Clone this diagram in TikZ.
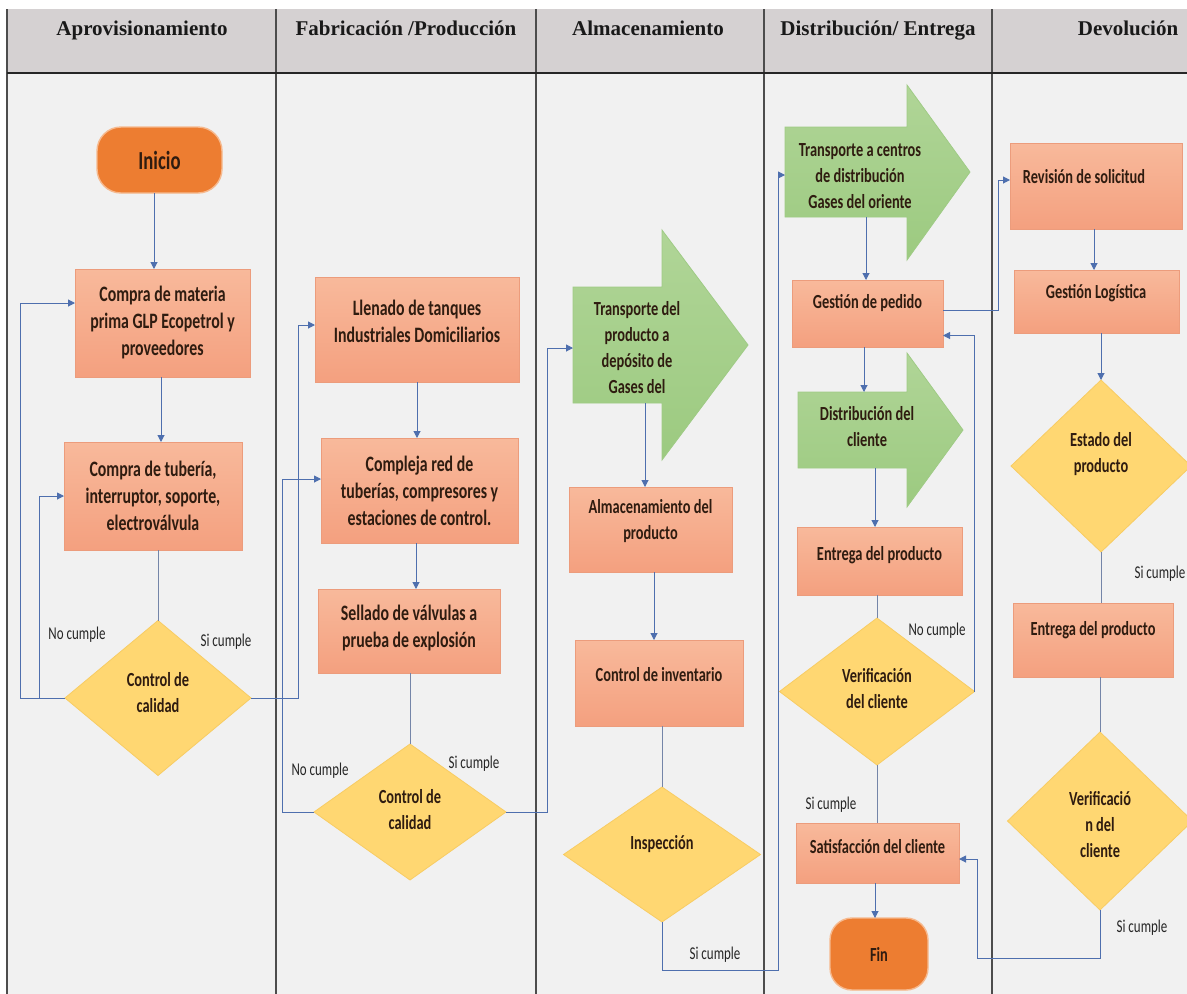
\documentclass[tikz,border=0pt]{standalone}
\usepackage{fontspec}
\setmainfont{Carlito}
\newfontfamily\headfont{Liberation Serif}
\newfontfamily\boxfont[FakeStretch=0.72]{Carlito}
\usetikzlibrary{shapes.geometric,arrows.meta,calc}

\definecolor{laneFill}{HTML}{F1F1F1}
\definecolor{headFill}{HTML}{D5D1D2}
\definecolor{divLine}{HTML}{4D4D4D}
\definecolor{oTop}{HTML}{F8B99B}
\definecolor{oBot}{HTML}{F4A07F}
\definecolor{oLine}{HTML}{EC9C7C}
\definecolor{gTop}{HTML}{B0D597}
\definecolor{gBot}{HTML}{9CCA80}
\definecolor{gLine}{HTML}{9FCB85}
\definecolor{yFill}{HTML}{FFD772}
\definecolor{yLine}{HTML}{F8CC63}
\definecolor{tFill}{HTML}{ED7D31}
\definecolor{tLine}{HTML}{F6B98E}
\definecolor{inkBrown}{HTML}{2F1C10}
\definecolor{arrBlue}{HTML}{4E6FAE}
\definecolor{lnBlue}{HTML}{7485A8}

\begin{document}
\begin{tikzpicture}[x=1pt,y=-1pt,
  stepbox/.style={rectangle, draw=oLine, line width=0.8pt, top color=oTop, bottom color=oBot, inner sep=0pt, outer sep=0pt},
  term/.style={rectangle, rounded corners=24pt, draw=tLine, line width=1.4pt, fill=tFill, inner sep=0pt, outer sep=0pt},
  decide/.style={diamond, draw=yLine, line width=0.8pt, fill=yFill, inner sep=0pt, outer sep=0pt},
  flowarrow/.style={draw=gLine, line width=0.8pt, top color=gTop, bottom color=gBot},
  bigtxt/.style={font=\boxfont\bfseries\fontsize{22}{27}\selectfont, text=inkBrown, align=center, inner sep=0pt},
  smalltxt/.style={font=\boxfont\bfseries\fontsize{20}{26}\selectfont, text=inkBrown, align=center, inner sep=0pt},
  condtxt/.style={font=\boxfont\fontsize{18}{20}\selectfont, text=black!85, inner sep=0pt},
  headtxt/.style={font=\headfont\bfseries\fontsize{21}{24}\selectfont, text=black!90, anchor=base, inner sep=0pt},
  arr/.style={draw=arrBlue, line width=1pt, -{Triangle[length=7pt,width=7pt]}},
  ln/.style={draw=lnBlue, line width=1pt},
  divider/.style={draw=divLine, line width=1.2pt}
]

% page and swimlane frame
\useasboundingbox (0,0) rectangle (1187,994);
\fill[white] (0,0) rectangle (1187,994);
\fill[laneFill] (7,73) rectangle (1187,994);
\fill[headFill] (7,9) rectangle (1187,73);
\foreach \lx in {7,276,536,764,992} \draw[divider] (\lx,9) -- (\lx,994);
\draw[line width=1.6pt, black!85] (7,73) -- (1187,73);

\node[headtxt] (h1) at (142,35.5) {Aprovisionamiento};
\node[headtxt] (h2) at (406,35.5) {Fabricación /Producción};
\node[headtxt] (h3) at (648,35.5) {Almacenamiento};
\node[headtxt] (h4) at (878,35.5) {Distribución/ Entrega};
\node[headtxt] (h5) at (1128,35.5) {Devolución};

% --- Aprovisionamiento
\node[term, minimum width=125pt, minimum height=66pt, font=\boxfont\bfseries\fontsize{26}{30}\selectfont, text=inkBrown] (inicio) at (159.5,160) {Inicio};
\node[stepbox, bigtxt, minimum width=175pt, minimum height=108pt] (cmp1) at (162.5,323) {Compra de materia\\prima GLP Ecopetrol y\\proveedores};
\node[stepbox, bigtxt, minimum width=178pt, minimum height=108pt] (cmp2) at (153,496) {Compra de tubería,\\interruptor, soporte,\\electroválvula};
\node[decide, minimum width=186pt, minimum height=155pt] (d1) at (158,698) {};
\node[smalltxt] (d1t) at (158,693) {Control de\\calidad};
\node[condtxt] (d1no) at (77,635) {No cumple};
\node[condtxt] (d1si) at (226,642) {Si cumple};

% --- Fabricación / Producción
\node[stepbox, minimum width=204pt, minimum height=105pt] (llen) at (417,329.5) {};
\node[bigtxt] (llent) at (417,321.5) {Llenado de tanques\\Industriales Domiciliarios};
\node[stepbox, bigtxt, minimum width=197pt, minimum height=105pt] (comp) at (419.5,490.5) {Compleja red de\\tuberías, compresores y\\estaciones de control.};
\node[stepbox, minimum width=182pt, minimum height=84pt] (sell) at (409,631) {};
\node[bigtxt] (sellt) at (409,628.5) {Sellado de válvulas a\\prueba de explosión};
\node[decide, minimum width=192pt, minimum height=136pt] (d2) at (410,812) {};
\node[smalltxt] (d2t) at (410,810) {Control de\\calidad};
\node[condtxt] (d2no) at (320,771) {No cumple};
\node[condtxt] (d2si) at (474,764) {Si cumple};

% --- Almacenamiento
\path[flowarrow] (573,287) -- (662,287) -- (662,230) -- (748,345) -- (662,460) -- (662,403) -- (573,403) -- cycle;
\coordinate (g1w) at (573,348);
\coordinate (g1s) at (645,403);
\node[smalltxt] (g1t) at (637,347.5) {Transporte del\\producto a\\depósito de\\Gases del};
\node[stepbox, minimum width=163pt, minimum height=85pt] (alm) at (650.5,529.5) {};
\node[smalltxt] (almt) at (650.5,521.5) {Almacenamiento del\\producto};
\node[stepbox, minimum width=168pt, minimum height=86pt] (inv) at (659,683) {};
\node[smalltxt] (invt) at (659,675) {Control de inventario};
\node[decide, minimum width=197pt, minimum height=135pt] (d3) at (662,854.5) {};
\node[smalltxt] (d3t) at (662,844) {Inspección};
\node[condtxt] (d3si) at (715,955) {Si cumple};

% --- Distribución / Entrega
\path[flowarrow] (785,127) -- (907,127) -- (907,85) -- (970,172) -- (907,260) -- (907,217) -- (785,217) -- cycle;
\coordinate (g2w) at (785,175);
\coordinate (g2s) at (866,217);
\node[smalltxt] (g2t) at (860,176) {Transporte a centros\\de distribución\\Gases del oriente};
\node[stepbox, minimum width=151pt, minimum height=67pt] (ped) at (867.5,313.5) {};
\node[smalltxt] (pedt) at (867.5,303) {Gestión de pedido};
\path[flowarrow] (798,392) -- (907,392) -- (907,353) -- (963,430) -- (907,507) -- (907,468) -- (798,468) -- cycle;
\coordinate (g3n) at (864,392);
\coordinate (g3s) at (875,468);
\node[smalltxt] (g3t) at (867,426.5) {Distribución del\\cliente};
\node[stepbox, minimum width=165pt, minimum height=68pt] (ent) at (879.5,561) {};
\node[smalltxt] (entt) at (879.5,555) {Entrega del producto};
\node[decide, minimum width=195pt, minimum height=147pt] (d4) at (877,691.5) {};
\node[smalltxt] (d4t) at (877,689) {Verificación\\del cliente};
\node[condtxt] (d4no) at (937,631) {No cumple};
\node[condtxt] (d4si) at (831,805) {Si cumple};
\node[stepbox, minimum width=163pt, minimum height=60pt] (sat) at (877.5,853) {};
\node[smalltxt] (satt) at (877.5,847) {Satisfacción del cliente};
\node[term, rounded corners=22pt, minimum width=98pt, minimum height=72pt, smalltxt] (fin) at (879,954) {Fin};

% --- Devolución
\node[stepbox, minimum width=172pt, minimum height=86pt] (rev) at (1096,186) {};
\node[smalltxt] (revt) at (1084,177) {Revisión de solicitud};
\node[stepbox, minimum width=165pt, minimum height=63pt] (glog) at (1096.5,301.5) {};
\node[smalltxt] (glogt) at (1096,293) {Gestión Logística};
\node[decide, minimum width=180pt, minimum height=172pt] (d5) at (1101,466) {};
\node[smalltxt] (d5t) at (1101,454.5) {Estado del\\producto};
\node[condtxt] (d5si) at (1160,574) {Si cumple};
\node[stepbox, minimum width=160pt, minimum height=74pt] (ent2) at (1093,640) {};
\node[smalltxt] (ent2t) at (1093,630) {Entrega del producto};
\node[decide, minimum width=185pt, minimum height=178pt] (d6) at (1100,821) {};
\node[smalltxt] (d6t) at (1100,825) {Verificació\\n del\\cliente};
\node[condtxt] (d6si) at (1142,928) {Si cumple};

% --- connectors
\draw[arr] ([xshift=-5.5pt]inicio.south) -- ([xshift=-5.5pt]inicio.south |- cmp1.north);
\draw[arr] ([xshift=-1.5pt]cmp1.south) -- ([xshift=-1.5pt]cmp1.south |- cmp2.north);
\draw[ln] (d1.north |- cmp2.south) -- (d1.north);
\draw[arr] (d1.west) -- ++(-45,0) |- ([yshift=20pt]cmp1.west);
\draw[arr] ([xshift=-26pt]d1.west) |- (cmp2.west);
\draw[arr] (d1.east) -- ++(47,0) |- ([yshift=4.5pt]llen.west);

\draw[arr] (llen.south) -- (llen.south |- comp.north);
\draw[arr] ([xshift=-3.5pt]comp.south) -- ([xshift=-3.5pt]comp.south |- sell.north);
\draw[ln] (d2.north |- sell.south) -- (d2.north);
\draw[arr] (d2.west) -- ++(-32,0) |- ([yshift=11.5pt]comp.west);
\draw[arr] (d2.east) -- ++(41,0) |- (g1w);

\draw[arr] (g1s) -- (g1s |- alm.north);
\draw[arr] ([xshift=3.5pt]alm.south) -- ([xshift=3.5pt]alm.south |- inv.north);
\draw[ln] (d3.north |- inv.south) -- (d3.north);
\draw[arr] (d3.south) -- ++(0,48) -| ([xshift=-7pt]g2w) -- (g2w);

\draw[arr] (g2s) -- (g2s |- ped.north);
\draw[arr] (g3n |- ped.south) -- (g3n);
\draw[arr] (g3s) -- (g3s |- ent.north);
\draw[ln] (d4.north |- ent.south) -- (d4.north);
\draw[arr] (d4.east) |- ([yshift=-22pt]ped.east);
\draw[ln] (d4.south) -- (d4.south |- sat.north);
\draw[arr] ([xshift=-4pt]fin.north |- sat.south) -- ([xshift=-4pt]fin.north);

\draw[arr] ([yshift=3.5pt]ped.east) -| ($(rev.west)+(-12,-6)$) -- ([yshift=6pt]rev.west);
\draw[arr] ([xshift=-2pt]rev.south) -- ([xshift=-2pt]rev.south |- glog.north);
\draw[arr] (d5.north |- glog.south) -- (d5.north);
\draw[ln] (d5.south) -- (d5.south |- ent2.north);
\draw[ln] (d6.north |- ent2.south) -- (d6.north);
\draw[arr] (d6.south) -- ++(0,48) -| ($(sat.east)+(18,6)$) -- ([yshift=-6pt]sat.east);

\end{tikzpicture}
\end{document}
